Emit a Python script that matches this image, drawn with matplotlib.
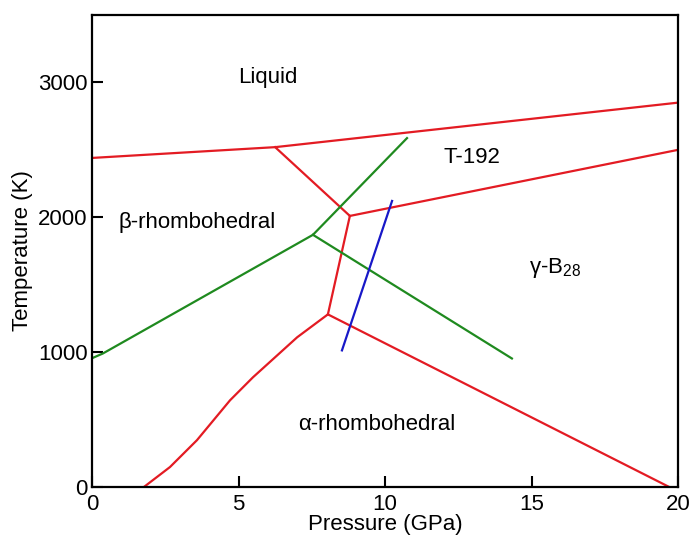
import matplotlib
matplotlib.use('Agg')
import matplotlib.pyplot as plt

plt.rcParams['font.family'] = ['Liberation Sans', 'DejaVu Sans']
plt.rcParams['mathtext.fontset'] = 'custom'
plt.rcParams['mathtext.rm'] = 'Liberation Sans'
plt.rcParams['mathtext.it'] = 'Liberation Sans:italic'

# Fronteras de fase (presión en GPa, temperatura en K)
fusion_p = [0, 6.25, 20]
fusion_t = [2440, 2520, 2850]

beta_t192_p = [6.25, 8.8]
beta_t192_t = [2520, 2010]

t192_gamma_p = [8.8, 20]
t192_gamma_t = [2010, 2500]

beta_gamma_p = [8.8, 8.05]
beta_gamma_t = [2010, 1280]

alfa_beta_p = [8.05, 7.0, 5.49, 4.71, 3.58, 2.66, 1.77]
alfa_beta_t = [1280, 1110, 813, 643, 347, 148, 0]

alfa_gamma_p = [8.05, 19.7]
alfa_gamma_t = [1280, 0]

verde1_p = [0, 0.37, 7.54, 10.75]
verde1_t = [955, 990, 1870, 2587]

verde2_p = [7.54, 14.33]
verde2_t = [1870, 953]

azul_p = [8.53, 10.24]
azul_t = [1013, 2121]

rojo = '#e31b23'
verde = '#1f8a1f'
azul = '#1818c8'

fig = plt.figure(figsize=(6.93, 5.35), dpi=100)
ax = fig.add_axes([0.1328, 0.0897, 0.8456, 0.8823])

for p, t in [(fusion_p, fusion_t), (beta_t192_p, beta_t192_t),
             (t192_gamma_p, t192_gamma_t), (beta_gamma_p, beta_gamma_t),
             (alfa_gamma_p, alfa_gamma_t)]:
    ax.plot(p, t, color=rojo, lw=1.6)
ax.plot(alfa_beta_p, alfa_beta_t, color=rojo, lw=1.6, solid_joinstyle='round')

ax.plot(verde1_p, verde1_t, color=verde, lw=1.6)
ax.plot(verde2_p, verde2_t, color=verde, lw=1.6)
ax.plot(azul_p, azul_t, color=azul, lw=1.6)

# Etiquetas de las fases
fs = 16
ax.text(6.0, 3040, 'Liquid', fontsize=fs, ha='center', va='center')
ax.text(12.95, 2440, 'T-192', fontsize=fs, ha='center', va='center')
ax.text(3.58, 1960, 'β-rhombohedral', fontsize=fs, ha='center', va='center')
ax.text(15.8, 1625, r'γ-B$_{\mathrm{28}}$', fontsize=fs, ha='center', va='center')
ax.text(9.73, 460, 'α-rhombohedral', fontsize=fs, ha='center', va='center')

ax.set_xlim(0, 20)
ax.set_ylim(0, 3500)
ax.set_xticks([0, 5, 10, 15, 20])
ax.set_yticks([0, 1000, 2000, 3000])
ax.tick_params(direction='in', length=8, width=1.5, labelsize=16)
ax.tick_params(axis='x', pad=5)
ax.tick_params(axis='y', pad=3)
for s in ax.spines.values():
    s.set_linewidth(1.6)

ax.set_xlabel('Pressure (GPa)', fontsize=16, labelpad=-1)
ax.set_ylabel('Temperature (K)', fontsize=16, labelpad=4)

fig.savefig('out.png', dpi=100)
